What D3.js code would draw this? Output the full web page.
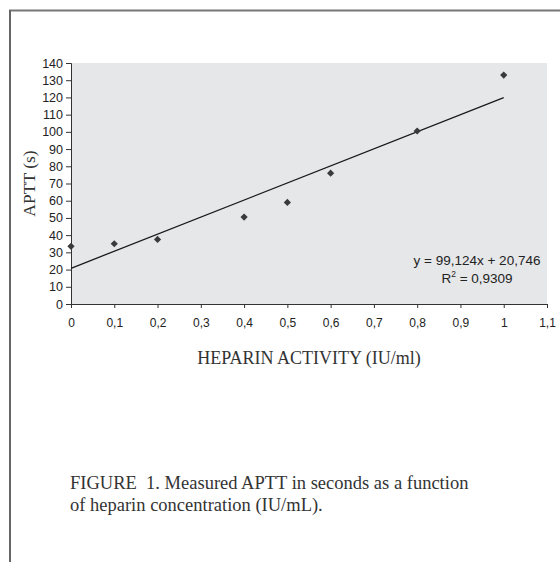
<!DOCTYPE html>
<meta charset="utf-8">
<head>
    <title>APTT vs heparin</title>
    <script src="https://d3js.org/d3.v7.min.js"></script>
</head>
<style type="text/css">
body {
    margin: 0;
    background: #ffffff;
}
.axis text {
    font-family: "Liberation Sans", Arial, sans-serif;
    font-size: 12px;
    fill: #222;
}
.y-axis text {
    font-size: 12.5px;
}
.axis path, .axis line {
    stroke: #333;
}
.eq text {
    font-family: "Liberation Sans", Arial, sans-serif;
    font-size: 13.5px;
    fill: #222;
}
.serif {
    font-family: "Liberation Serif", "Times New Roman", serif;
    fill: #333;
}
</style>
<body>
    <svg id="chart" width="560" height="562"></svg>

    <script type="text/javascript">
        // data
        var heparin = [0, 0.1, 0.2, 0.4, 0.5, 0.6, 0.8, 1.0];
        var aptt = [33.5, 35, 37.5, 50.5, 59, 76, 100.5, 133];
        var xTicks = [0, 0.1, 0.2, 0.3, 0.4, 0.5, 0.6, 0.7, 0.8, 0.9, 1, 1.1];
        var yTicks = [0, 10, 20, 30, 40, 50, 60, 70, 80, 90, 100, 110, 120, 130, 140];
        var slope = 99.124, intercept = 20.746, r2 = 0.9309;
        var trendRange = [0, 1];
        var captionLines = ["FIGURE\u00a0 1. Measured APTT in seconds as a function",
                            "of heparin concentration (IU/mL)."];

        var svg = d3.select("#chart");
        var pLeft = 71, pRight = 547, pTop = 63, pBottom = 304;

        // frame of the figure box
        svg.append("line").attr("x1", 9).attr("x2", 560).attr("y1", 10.5).attr("y2", 10.5)
            .attr("stroke", "#777").attr("stroke-width", 2);
        svg.append("line").attr("x1", 10).attr("x2", 10).attr("y1", 10).attr("y2", 562)
            .attr("stroke", "#666").attr("stroke-width", 2);

        var x = d3.scaleLinear().domain([0, 1.1]).range([pLeft, pRight]);
        var y = d3.scaleLinear().domain([0, 140]).range([pBottom, pTop]);

        svg.append("rect")
            .attr("x", pLeft).attr("y", pTop)
            .attr("width", pRight - pLeft).attr("height", pBottom - pTop)
            .attr("fill", "#e6e7e9");

        var comma = function(d) { return String(+d.toFixed(1)).replace(".", ","); };
        function comma3(v) { return String(v).replace(".", ","); }

        svg.append("g")
            .attr("class", "axis")
            .attr("transform", "translate(0," + pBottom + ")")
            .call(d3.axisBottom(x).tickValues(xTicks).tickFormat(comma).tickSizeInner(4).tickSizeOuter(4).tickPadding(10));

        svg.append("g")
            .attr("class", "axis y-axis")
            .attr("transform", "translate(" + pLeft + ",0)")
            .call(d3.axisLeft(y).tickValues(yTicks).tickSizeInner(5).tickSizeOuter(5).tickPadding(3));

        // trend line from the fitted equation
        svg.append("line")
            .attr("x1", x(trendRange[0])).attr("y1", y(intercept + slope * trendRange[0]))
            .attr("x2", x(trendRange[1])).attr("y2", y(intercept + slope * trendRange[1]))
            .attr("stroke", "#1a1a1a").attr("stroke-width", 1.3);

        // diamond markers
        var pts = heparin.map(function(h, i) { return [h, aptt[i]]; });
        svg.selectAll(".pt").data(pts).enter().append("path")
            .attr("class", "pt")
            .attr("d", d3.symbol().type(d3.symbolSquare).size(26))
            .attr("transform", function(d) { return "translate(" + x(d[0]) + "," + y(d[1]) + ") rotate(45)"; })
            .attr("fill", "#3a3a3a");

        // equation
        var eq = svg.append("g").attr("class", "eq");
        eq.append("text").attr("x", 477).attr("y", 265).attr("text-anchor", "middle")
            .text("y = " + comma3(slope) + "x + " + comma3(intercept));
        var r2t = eq.append("text").attr("x", 477).attr("y", 283).attr("text-anchor", "middle");
        r2t.append("tspan").text("R");
        r2t.append("tspan").attr("dy", -6).style("font-size", "8.5px").text("2");
        r2t.append("tspan").attr("dy", 6).text(" = " + comma3(r2));

        // axis titles
        svg.append("text").attr("class", "serif")
            .attr("transform", "translate(35," + ((pTop + pBottom) / 2) + ") rotate(-90)")
            .attr("text-anchor", "middle").style("font-size", "17.5px")
            .text("APTT (s)");

        svg.append("text").attr("class", "serif")
            .attr("x", (pLeft + pRight) / 2).attr("y", 364)
            .attr("text-anchor", "middle").style("font-size", "18px")
            .text("HEPARIN ACTIVITY (IU/ml)");

        // caption
        svg.selectAll(".cap").data(captionLines).enter().append("text")
            .attr("class", "serif cap")
            .attr("x", 70).attr("y", function(d, i) { return 489 + i * 22; })
            .style("font-size", "18.5px")
            .text(function(d) { return d; });
    </script>
</body>
